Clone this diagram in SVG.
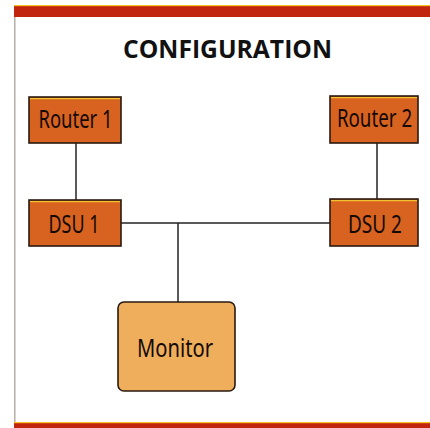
<svg xmlns="http://www.w3.org/2000/svg" width="430" height="428" viewBox="0 0 430 428">
<style>
.box{fill:#D8621F;stroke:#2a1a10;stroke-width:1.6}
.mon{fill:#EEAE5C;stroke:#2a1a10;stroke-width:1.6}
.hl{stroke:#F2C230;stroke-width:1.2}
.lbl{font-family:"Noto Sans","Open Sans",sans-serif;font-size:25px;fill:#140a05;text-anchor:middle}
.title{font-family:"Open Sans","Noto Sans",sans-serif;font-size:25.5px;font-weight:bold;fill:#111;text-anchor:middle}
.conn{stroke:#222;stroke-width:1.5;fill:none}
</style>
<rect x="0" y="0" width="430" height="428" fill="#fff"/>
<g id="frame">
<rect x="14" y="5" width="416" height="12" fill="#C2250F"/>
<rect x="14" y="5" width="416" height="1.2" fill="#F5C020"/>
<rect x="14" y="422" width="416" height="6" fill="#C2250F"/>
<rect x="14" y="422" width="416" height="1.2" fill="#F5C020"/>
<line x1="14.8" y1="17" x2="14.8" y2="422" stroke="#A8A39B" stroke-width="1.3"/>
</g>
<text id="title" class="title" x="227.5" y="57.5" textLength="209" lengthAdjust="spacingAndGlyphs">CONFIGURATION</text>
<g id="connectors">
<line class="conn" x1="76" y1="143" x2="76" y2="200"/>
<line class="conn" x1="377" y1="143" x2="377" y2="199"/>
<line class="conn" x1="121" y1="223" x2="330" y2="223"/>
<line class="conn" x1="178" y1="223" x2="178" y2="302"/>
</g>
<g id="router1">
<rect class="box" x="29" y="97" width="92" height="46"/>
<line class="hl" x1="30" y1="98.6" x2="120" y2="98.6"/>
<text class="lbl" x="75.5" y="128" textLength="74" lengthAdjust="spacingAndGlyphs">Router 1</text>
</g>
<g id="router2">
<rect class="box" x="330" y="96" width="88" height="47"/>
<line class="hl" x1="331" y1="97.6" x2="417" y2="97.6"/>
<text class="lbl" transform="translate(374.5 127) scale(0.75 1)" x="0" y="0">Router 2</text>
</g>
<g id="dsu1">
<rect class="box" x="29" y="200" width="92" height="46"/>
<line class="hl" x1="30" y1="201.6" x2="120" y2="201.6"/>
<text class="lbl" x="74" y="232.5" textLength="51" lengthAdjust="spacingAndGlyphs">DSU 1</text>
</g>
<g id="dsu2">
<rect class="box" x="330" y="199" width="88" height="47"/>
<line class="hl" x1="331" y1="200.6" x2="417" y2="200.6"/>
<text class="lbl" x="375" y="232.5" textLength="54" lengthAdjust="spacingAndGlyphs">DSU 2</text>
</g>
<g id="monitor">
<rect class="mon" x="118" y="302" width="117" height="89" rx="6" ry="6"/>
<text class="lbl" x="175" y="357" textLength="76" lengthAdjust="spacingAndGlyphs">Monitor</text>
</g>
</svg>
